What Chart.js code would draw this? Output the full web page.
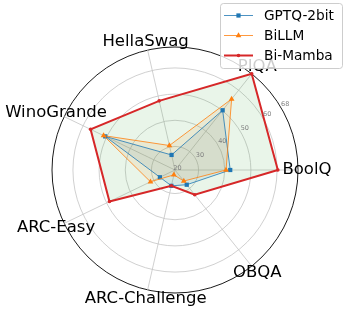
<!DOCTYPE html>
<html><head><meta charset="utf-8">
<script src="https://cdn.jsdelivr.net/npm/chart.js@4.4.1/dist/chart.umd.min.js"></script>
<style>html,body{margin:0;padding:0;background:#fff;overflow:hidden}#wrap{position:relative;width:346px;height:312px}</style>
</head><body><div id="wrap"><canvas id="c" width="346" height="312"></canvas></div>
<script>
// Data (natural, counter-clockwise order starting at east)
const categories = ['BoolQ', 'PIQA', 'HellaSwag', 'WinoGrande', 'ARC-Easy', 'ARC-Challenge', 'OBQA'];
const gptq2bit = [42.1, 50.2, 26.9, 50.6, 27.4, 27.2, 28.2];
const billm    = [40.5, 55.7, 30.6, 51.3, 31.4, 22.9, 26.4];
const biMamba  = [60.3, 68.0, 48.1, 56.8, 48.8, 27.2, 33.1];
const seriesNames = ['GPTQ-2bit', 'BiLLM', 'Bi-Mamba'];
const tickValues = [20, 30, 40, 50, 60, 68];
const rMin = 21, rMax = 68;

// Chart.js radar goes clockwise; reorder so the sequence runs counter-clockwise
const ccw = arr => [arr[0]].concat(arr.slice(1).reverse());

const FONT = '"DejaVu Sans", "Liberation Sans", sans-serif';
const lineColors = ['#1f77b4', '#ff7f0e', '#d62728'];
const fillColors = ['rgba(31,119,180,0.1)', 'rgba(255,127,14,0.1)', 'rgba(44,160,44,0.1)'];

const overlay = {
  id: 'overlay',
  afterDatasetsDraw(chart) {
    const ctx = chart.ctx, s = chart.scales.r;
    ctx.save();
    ctx.font = '6.5px ' + FONT;
    ctx.fillStyle = '#7f7f7f';
    ctx.textAlign = 'center';
    ctx.textBaseline = 'middle';
    const a = 31 * Math.PI / 180;
    tickValues.forEach(v => {
      const d = s.getDistanceFromCenterForValue(v) + 5.5;
      ctx.fillText(String(v), s.xCenter + d * Math.cos(a), s.yCenter - d * Math.sin(a));
    });
    ctx.font = '16.5px ' + FONT;
    ctx.fillStyle = '#000';
    chart.data.labels.forEach((t, i) => {
      const p = s.getPointPosition(i, s.drawingArea + 9);
      ctx.fillText(t, p.x, p.y);
    });
    ctx.restore();
  },
  afterDraw(chart) {
    const ctx = chart.ctx;
    ctx.save();
    ctx.beginPath();
    ctx.roundRect(220.5, 3.5, 122, 65, 3);
    ctx.fillStyle = 'rgba(255,255,255,0.8)';
    ctx.fill();
    ctx.strokeStyle = 'rgba(200,200,200,0.9)';
    ctx.lineWidth = 1;
    ctx.stroke();
    const ys = [15.5, 35.5, 55.5];
    ctx.font = '13.7px ' + FONT;
    ctx.textBaseline = 'middle';
    ctx.textAlign = 'left';
    seriesNames.forEach((n, i) => {
      const ds = chart.data.datasets.find(d => d.label === n);
      const y = ys[i];
      ctx.strokeStyle = ds.borderColor;
      ctx.lineWidth = ds.borderWidth;
      ctx.beginPath(); ctx.moveTo(224, y); ctx.lineTo(253, y); ctx.stroke();
      ctx.fillStyle = ds.borderColor;
      Chart.helpers.drawPoint(ctx, {pointStyle: ds.pointStyle, radius: ds.pointRadius, borderWidth: 0, rotation: 0}, 238.5, y);
      ctx.fillStyle = '#000';
      ctx.fillText(n, 264, y + 0.5);
    });
    ctx.restore();
  }
};

const seriesData = [gptq2bit, billm, biMamba];
const pointStyles = ['rect', 'triangle', 'circle'];
const pointRadii = [3, 3.3, 1.8];
const widths = [0.8, 0.8, 2];

new Chart(document.getElementById('c'), {
  type: 'radar',
  data: {
    labels: ccw(categories),
    datasets: seriesData.map((arr, i) => ({
      label: seriesNames[i],
      data: ccw(arr),
      borderColor: lineColors[i],
      backgroundColor: fillColors[i],
      fill: true,
      borderWidth: widths[i],
      pointStyle: pointStyles[i],
      pointRadius: pointRadii[i],
      pointBackgroundColor: lineColors[i],
      pointBorderColor: lineColors[i],
      pointBorderWidth: 0,
      tension: 0,
      order: 2 - i
    }))
  },
  options: {
    responsive: false,
    animation: false,
    devicePixelRatio: 1,
    layout: {padding: {left: 5, right: 0, top: 47, bottom: 18}},
    plugins: {legend: {display: false}, tooltip: {enabled: false}, filler: {drawTime: 'beforeDatasetsDraw'}},
    scales: {
      r: {
        min: rMin, max: rMax,
        startAngle: 90,
        afterBuildTicks: sc => { sc.ticks = [rMin].concat(tickValues.filter(v => v > rMin)).map(v => ({value: v})); },
        ticks: {display: false},
        pointLabels: {display: false},
        grid: {
          circular: true,
          color: c => (c.tick && c.tick.value === rMax) ? '#000' : '#c4c4c4',
          lineWidth: c => (c.tick && c.tick.value === rMax) ? 0.9 : 0.8
        },
        angleLines: {color: '#c4c4c4', lineWidth: 0.8}
      }
    }
  },
  plugins: [overlay]
});
</script></body></html>
